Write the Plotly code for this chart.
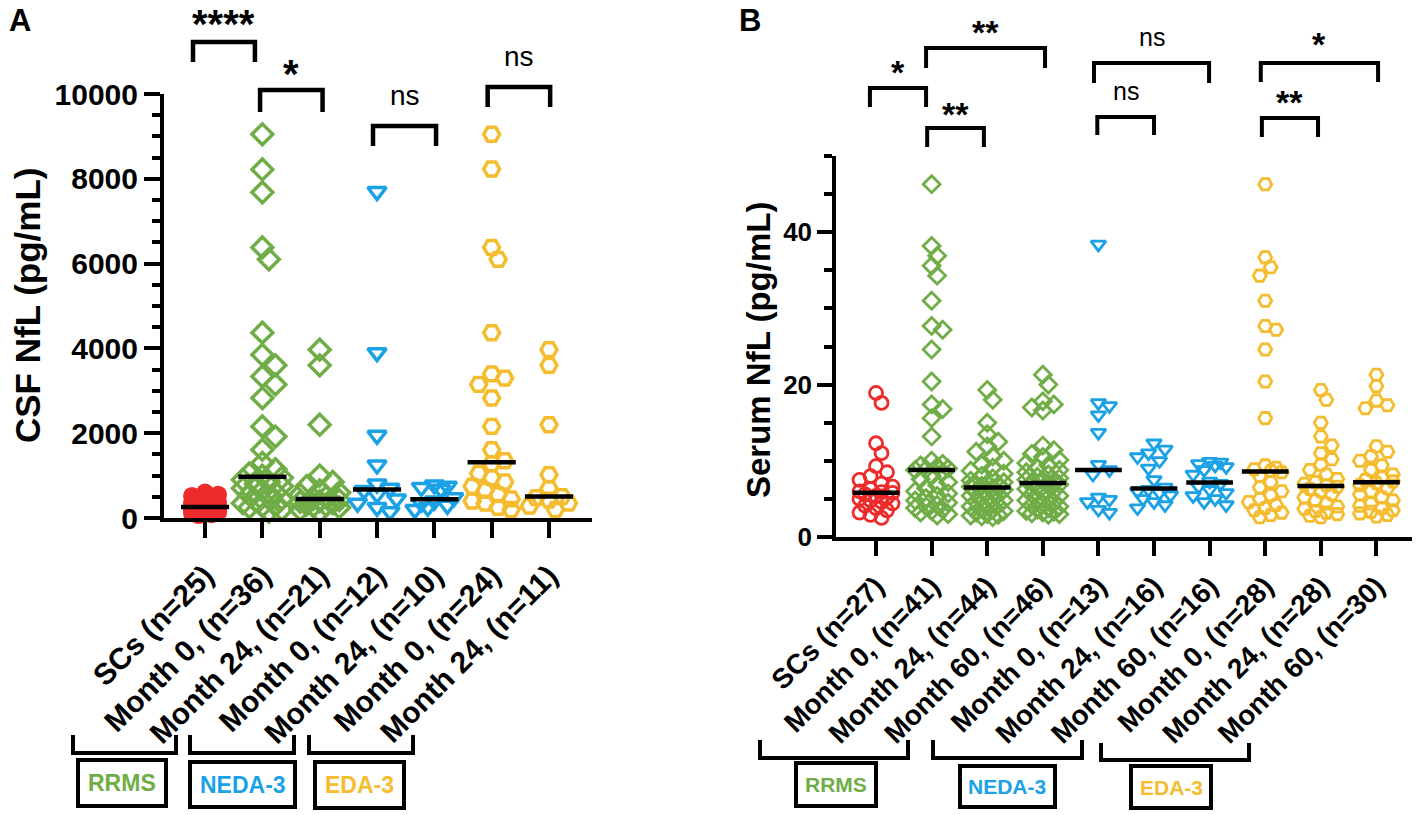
import math
import numpy as np
import plotly.graph_objects as go

# ---------------- data ----------------
A_labels = ["SCs (n=25)", "Month 0, (n=36)", "Month 24, (n=21)", "Month 0, (n=12)",
            "Month 24, (n=10)", "Month 0, (n=24)", "Month 24, (n=11)"]
A_scs = [600, 550, 520, 480, 450, 420, 380, 350, 320, 300, 290, 270, 260, 250, 240,
         220, 200, 190, 180, 160, 150, 130, 110, 90, 70]
A_rrms_m0 = [9050, 8220, 7680, 6380, 6100, 4370, 3850, 3600, 3340, 3150, 2830, 2160, 1920,
             1610, 1300, 1150, 1050, 1000, 950, 900, 850, 800, 750, 700, 650, 600, 550, 500,
             450, 400, 350, 300, 280, 250, 200, 150]
A_rrms_m24 = [3970, 3600, 2200, 1000, 850, 750, 650, 600, 550, 500, 450, 420, 400, 380, 350,
              320, 300, 280, 250, 200, 150]
A_neda_m0 = [7700, 3900, 1950, 1250, 800, 700, 650, 560, 450, 350, 250, 150]
A_neda_m24 = [780, 750, 720, 680, 480, 400, 350, 300, 250, 200]
A_eda_m0 = [9050, 8230, 6380, 6100, 4370, 3400, 3300, 3150, 2830, 2160, 1610, 1350, 1280,
            1050, 950, 850, 750, 650, 550, 450, 400, 350, 250, 200]
A_eda_m24 = [3970, 3600, 2200, 1020, 700, 505, 480, 420, 350, 280, 200]
A_groups = [A_scs, A_rrms_m0, A_rrms_m24, A_neda_m0, A_neda_m24, A_eda_m0, A_eda_m24]
A_yticks = [0, 2000, 4000, 6000, 8000, 10000]

B_labels = ["SCs (n=27)", "Month 0, (n=41)", "Month 24, (n=44)", "Month 60, (n=46)",
            "Month 0, (n=13)", "Month 24, (n=16)", "Month 60, (n=16)", "Month 0, (n=28)",
            "Month 24, (n=28)", "Month 60, (n=30)"]
B_scs = [18.9, 17.6, 12.3, 11.0, 9.3, 8.5, 8.0, 7.5, 7.0, 6.6, 6.3, 6.0, 5.9, 5.8, 5.6, 5.4,
         5.2, 5.0, 4.8, 4.6, 4.4, 4.1, 3.8, 3.5, 3.2, 2.9, 2.5]
B_rrms_m0 = [46.3, 38.2, 36.9, 35.6, 34.3, 31.0, 27.7, 27.2, 24.6, 20.4, 17.4, 16.8, 15.6, 13.2,
             10.0, 9.6, 9.4, 9.2, 9.0, 8.9, 8.8, 8.5, 8.0, 7.6, 7.2, 6.8, 6.4, 6.0, 5.7, 5.4,
             5.1, 4.8, 4.5, 4.2, 4.0, 3.8, 3.6, 3.4, 3.2, 3.0, 2.8]
B_rrms_m24 = [19.3, 18.0, 15.0, 13.5, 12.5, 11.9, 11.2, 10.6, 10.0, 9.5, 9.1, 8.7, 8.3, 8.0,
              7.7, 7.4, 7.2, 7.0, 6.9, 6.8, 6.7, 6.6, 6.4, 6.2, 6.0, 5.8, 5.6, 5.4, 5.2, 5.0,
              4.8, 4.6, 4.4, 4.2, 4.0, 3.8, 3.6, 3.4, 3.2, 3.0, 2.9, 2.8, 2.7, 2.6]
B_rrms_m60 = [21.3, 20.0, 17.8, 17.4, 17.0, 16.6, 12.0, 11.4, 10.9, 10.5, 10.1, 9.7, 9.4, 9.1,
              8.8, 8.5, 8.2, 7.9, 7.7, 7.5, 7.35, 7.25, 7.15, 7.05, 6.9, 6.6, 6.3, 6.0, 5.8,
              5.6, 5.4, 5.2, 5.0, 4.8, 4.6, 4.4, 4.2, 4.0, 3.8, 3.6, 3.4, 3.3, 3.2, 3.1, 3.0, 2.9]
B_neda_m0 = [38.4, 17.6, 17.2, 16.0, 13.7, 9.5, 8.8, 8.2, 5.2, 4.9, 4.6, 3.6, 3.2]
B_neda_m24 = [12.3, 11.5, 11.0, 10.5, 10.0, 9.0, 7.5, 6.5, 6.2, 6.0, 5.8, 5.5, 5.0, 4.6, 4.2, 3.8]
B_neda_m60 = [9.9, 9.8, 9.6, 9.4, 9.2, 8.8, 8.2, 7.3, 7.0, 6.6, 6.2, 5.8, 5.4, 5.0, 4.6, 4.2]
B_eda_m0 = [46.3, 36.7, 35.4, 34.3, 31.0, 27.7, 27.2, 24.6, 20.4, 15.6, 9.4, 9.1, 8.9, 8.7,
            8.5, 8.0, 7.2, 6.5, 6.0, 5.5, 5.0, 4.6, 4.2, 3.8, 3.5, 3.2, 2.9, 2.6]
B_eda_m24 = [19.3, 18.0, 15.0, 13.2, 12.0, 11.0, 10.2, 9.5, 8.8, 8.2, 7.6, 7.2, 7.0, 6.8, 6.6,
             6.3, 6.0, 5.6, 5.2, 4.8, 4.4, 4.0, 3.7, 3.4, 3.2, 3.0, 2.8, 2.6]
B_eda_m60 = [21.3, 19.8, 17.9, 17.3, 16.9, 11.9, 11.2, 10.6, 10.0, 9.4, 8.8, 8.2, 7.8, 7.5,
             7.3, 7.1, 6.8, 6.4, 6.0, 5.6, 5.2, 4.8, 4.4, 4.1, 3.8, 3.5, 3.3, 3.1, 2.9, 2.7]
B_groups = [B_scs, B_rrms_m0, B_rrms_m24, B_rrms_m60, B_neda_m0, B_neda_m24, B_neda_m60,
            B_eda_m0, B_eda_m24, B_eda_m60]
B_yticks = [0, 20, 40]

# significance comparisons: (from, to, label)
A_sig = [(0, 1, "****"), (1, 2, "*"), (3, 4, "ns"), (5, 6, "ns")]
B_sig = [(0, 1, "*"), (1, 3, "**"), (1, 2, "**"), (4, 6, "ns"), (4, 5, "ns"),
         (7, 9, "*"), (7, 8, "**")]
group_names = ["RRMS", "NEDA-3", "EDA-3"]

# ---------------- styling ----------------
W, H = 1418, 815
RED, GREEN, BLUE, YELLOW = "#EE2B2B", "#70AD47", "#1BA1E6", "#F4BC2E"
FONT = "Liberation Sans, Arial, sans-serif"


def px(x):
    return x / W


def py(y):
    return 1 - y / H


PANEL_A = dict(left=164, right=592, top=94, bottom=518, xr=[-0.716, 6.75], yr=[0, 10000])
PANEL_B = dict(left=836, right=1412, top=156, bottom=537, xr=[-0.72, 9.64], yr=[0, 50])


def swarm(values, ppu_y, ppu_x, diam, max_off):
    n = len(values)
    order = sorted(range(n), key=lambda i: values[i], reverse=True)
    placed, pos = [], [0.0] * n
    step = diam * 0.5
    kmax = max(1, int(max_off / step))
    cands = [0.0]
    for k in range(1, kmax + 1):
        cands += [k * step, -k * step]
    for i in order:
        y = values[i] * ppu_y
        best, best_d = 0.0, -1.0
        for c in cands:
            d = min((math.hypot(c - a, y - b) for a, b in placed), default=1e9)
            if d >= diam:
                best = c
                break
            if d > best_d:
                best_d, best = d, c
        placed.append((best, y))
        pos[i] = best / ppu_x
    return pos


fig = go.Figure()


def add_panel(groups, panel, colors, symbols, msizes, mline, fill_first, xa, ya, diam, max_offs):
    ppu_y = (panel["bottom"] - panel["top"]) / (panel["yr"][1] - panel["yr"][0])
    ppu_x = (panel["right"] - panel["left"]) / (panel["xr"][1] - panel["xr"][0])
    mx, my = [], []
    for i, vals in enumerate(groups):
        offs = swarm(vals, ppu_y, ppu_x, diam, max_offs[i])
        fig.add_trace(go.Scatter(
            x=[i + o for o in offs], y=vals, mode="markers", xaxis=xa, yaxis=ya,
            cliponaxis=False, showlegend=False, hoverinfo="skip",
            marker=dict(symbol=symbols[i], size=msizes[i], color=colors[i],
                        line=dict(color=colors[i], width=(0 if (i == 0 and fill_first) else mline)))))
        m = float(np.median(vals))
        mx += [i - 0.42, i + 0.42, None]
        my += [m, m, None]
    fig.add_trace(go.Scatter(x=mx, y=my, mode="lines", xaxis=xa, yaxis=ya, cliponaxis=False,
                             showlegend=False, hoverinfo="skip",
                             line=dict(color="black", width=4.5)))


A_colors = [RED, GREEN, GREEN, BLUE, BLUE, YELLOW, YELLOW]
A_symbols = ["circle", "diamond-open", "diamond-open", "triangle-down-open",
             "triangle-down-open", "hexagon2-open", "hexagon2-open"]
B_colors = [RED, GREEN, GREEN, GREEN, BLUE, BLUE, BLUE, YELLOW, YELLOW, YELLOW]
B_symbols = ["circle-open", "diamond-open", "diamond-open", "diamond-open",
             "triangle-down-open", "triangle-down-open", "triangle-down-open",
             "hexagon2-open", "hexagon2-open", "hexagon2-open"]

add_panel(A_groups, PANEL_A, A_colors, A_symbols, [18] + [16] * 6, 3.5, True, "x", "y", 13,
          [13, 21, 21, 21, 21, 21, 21])
add_panel(B_groups, PANEL_B, B_colors, B_symbols, [13] * 10, 2.8, False, "x2", "y2", 11,
          [18] * 10)


def axis_pair(panel, labels, yticks, fs_tick, fs_cat, lw, xticklen, yticklen, standoff):
    xa = dict(domain=[px(panel["left"]), px(panel["right"])], range=panel["xr"],
              automargin=False,
              tickmode="array", tickvals=list(range(len(labels))), ticktext=labels,
              tickangle=-45, ticks="outside", ticklen=xticklen, tickwidth=lw, tickcolor="black",
              ticklabelstandoff=standoff,
              showline=True, linewidth=lw, linecolor="black", showgrid=False, zeroline=False,
              tickfont=dict(family=FONT, size=fs_cat, color="black", weight="bold"))
    ya = dict(domain=[py(panel["bottom"]), py(panel["top"])], range=panel["yr"],
              automargin=False,
              tickmode="array", tickvals=yticks, ticktext=[str(t) for t in yticks],
              ticks="outside", ticklen=yticklen, tickwidth=lw, tickcolor="black",
              showline=True, linewidth=lw, linecolor="black", showgrid=False, zeroline=False,
              minor=dict(dtick=(yticks[1] - yticks[0]) / 4, ticks="outside", ticklen=8,
                         tickwidth=lw, tickcolor="black", showgrid=False),
              tickfont=dict(family=FONT, size=fs_tick, color="black", weight="bold"))
    return xa, ya


xa1, ya1 = axis_pair(PANEL_A, A_labels, A_yticks, 30, 30, 4, 16, 16, 8)
xa2, ya2 = axis_pair(PANEL_B, B_labels, B_yticks, 26, 28, 3.5, 15, 15, 3)
xa1["anchor"] = "y"
ya1["anchor"] = "x"
xa2["anchor"] = "y2"
ya2["anchor"] = "x2"

shapes, annos = [], []


def sig_brackets(sig, geom, xref, lw):
    for (a, b, lab), (x1, x2, top, bot, ty, fs) in zip(sig, geom):
        shapes.append(dict(type="path", xref=xref, yref="paper",
                           path=f"M {x1},{py(bot)} L {x1},{py(top)} L {x2},{py(top)} L {x2},{py(bot)}",
                           line=dict(color="black", width=lw)))
        if lab == "ns":
            yc = ty - 0.09 * fs
            font = dict(family=FONT, size=fs, color="black")
        else:
            yc = ty + 0.22 * fs
            font = dict(family=FONT, size=fs, color="black", weight="bold")
        annos.append(dict(text=lab, xref=xref, yref="paper", x=(x1 + x2) / 2, y=py(yc),
                          xanchor="center", yanchor="middle", showarrow=False, font=font))


# bracket geometry: x extents in category units, y in pixels (top, legs bottom, label centre)
A_sig_geom = [(-0.21, 0.87, 42, 62, 15, 40), (0.96, 2.05, 90, 112, 65, 40),
              (2.93, 4.03, 126, 146, 98, 28), (4.93, 6.02, 87, 107, 59, 28)]
B_sig_geom = [(-0.11, 0.90, 88, 107, 65, 34), (0.90, 3.04, 48, 68, 25, 34),
              (0.92, 1.94, 128, 147, 107, 34), (3.92, 5.99, 63, 83, 39, 25),
              (3.98, 5.0, 117, 135, 93, 25), (6.92, 9.03, 63, 82, 37, 34),
              (6.94, 7.95, 118, 137, 95, 34)]
sig_brackets(A_sig, A_sig_geom, "x", 4.5)
sig_brackets(B_sig, B_sig_geom, "x2", 4)

# group brackets and boxes under the category labels (pixel geometry)
group_colors = [GREEN, BLUE, YELLOW]
A_grp = [((73, 176, 735, 753), (78, 166, 760, 806)),
         ((190, 294, 735, 753), (190, 295, 762, 807)),
         ((309, 413, 735, 753), (315, 404, 762, 808))]
B_grp = [((760, 908, 740, 758), (796, 876, 763, 806)),
         ((933, 1082, 740, 758), (960, 1055, 766, 807)),
         ((1101, 1249, 743, 760), (1131, 1211, 766, 808))]


def group_boxes(grp, fs, lw):
    for name, col, ((bx1, bx2, bt, bb), (rx1, rx2, rt, rb)) in zip(group_names, group_colors, grp):
        shapes.append(dict(type="path", xref="paper", yref="paper",
                           path=f"M {px(bx1)},{py(bt)} L {px(bx1)},{py(bb)} L {px(bx2)},{py(bb)} L {px(bx2)},{py(bt)}",
                           line=dict(color="black", width=lw)))
        shapes.append(dict(type="rect", xref="paper", yref="paper", x0=px(rx1), x1=px(rx2),
                           y0=py(rb), y1=py(rt), line=dict(color="black", width=lw)))
        annos.append(dict(text=name, xref="paper", yref="paper", x=px((rx1 + rx2) / 2),
                          y=py((rt + rb) / 2), xanchor="center", yanchor="middle", showarrow=False,
                          font=dict(family=FONT, size=fs, color=col, weight="bold")))


group_boxes(A_grp, 23, 4)
group_boxes(B_grp, 21, 4)

# panel letters and axis titles
for txt, x, y, fs, ang in [("A", 20, 21, 31, 0), ("B", 750, 21, 31, 0),
                           ("CSF NfL (pg/mL)", 27, 306, 35, -90),
                           ("Serum NfL (pg/mL)", 759, 350, 33, -90)]:
    annos.append(dict(text=txt, xref="paper", yref="paper", x=px(x), y=py(y), xanchor="center",
                      yanchor="middle", showarrow=False, textangle=ang,
                      font=dict(family=FONT, size=fs, color="black", weight="bold")))

fig.update_layout(width=W, height=H, margin=dict(l=0, r=0, t=0, b=0, autoexpand=False),
                  autosize=False, paper_bgcolor="white", plot_bgcolor="white",
                  xaxis=xa1, yaxis=ya1, xaxis2=xa2, yaxis2=ya2,
                  shapes=shapes, annotations=annos, showlegend=False)

fig.write_html("out.html", post_script="document.body.style.margin='0';",
               config={"displayModeBar": False})
